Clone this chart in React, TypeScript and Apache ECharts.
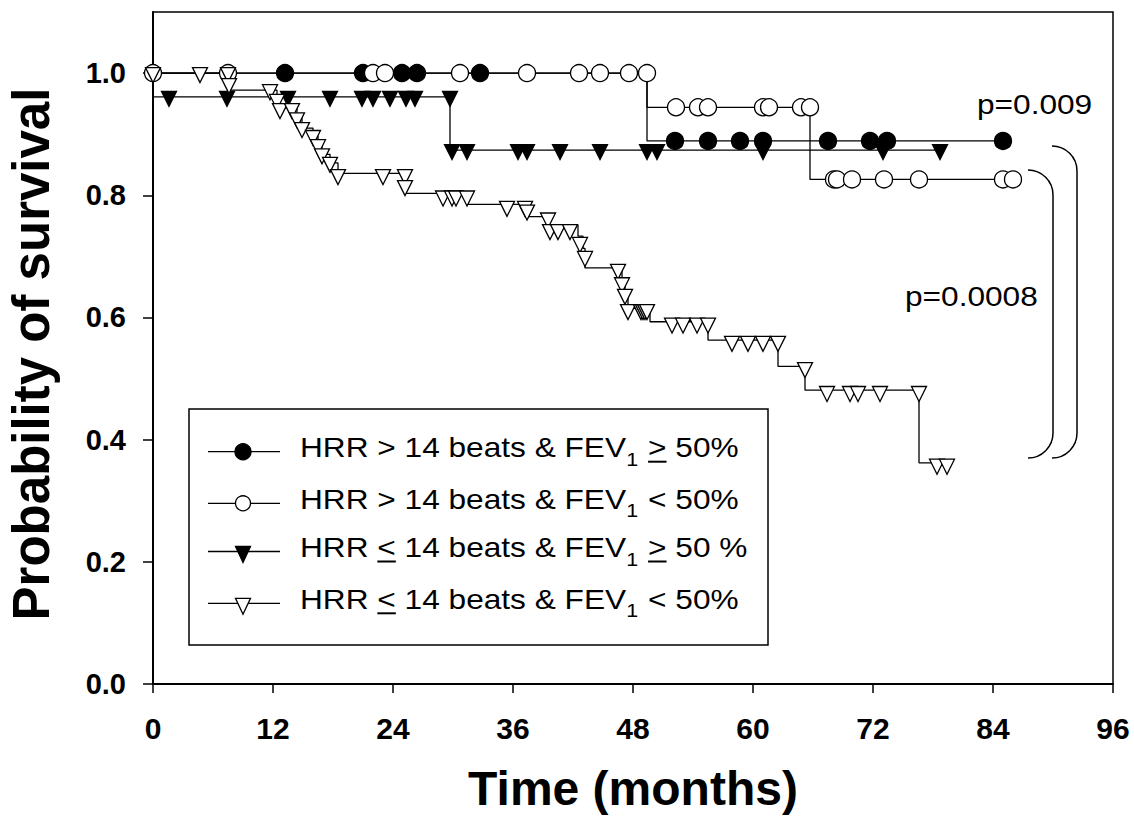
import React, { useEffect, useRef } from "react";
import * as echarts from "echarts";

type Pt = [number, number];

// ---------- axis settings ----------
const X_MIN = 0;
const X_MAX = 96;
const X_STEP = 12;
const Y_MIN = 0;
const Y_MAX = 1.1;
const yTickValues = [0, 0.2, 0.4, 0.6, 0.8, 1.0];
const xTitle = "Time (months)";
const yTitle = "Probability of survival";

// ---------- group A: HRR > 14 beats & FEV1 >= 50% (filled circles) ----------
const stepsA: Pt[] = [[0, 1.0], [49.4, 0.889], [85.0, 0.889]];
const censA: Pt[] = [
  [13.2, 1.0], [21.0, 1.0], [24.9, 1.0], [26.4, 1.0], [32.7, 1.0],
  [52.2, 0.889], [55.5, 0.889], [58.7, 0.889], [61.0, 0.889], [67.5, 0.889],
  [71.7, 0.889], [73.4, 0.889], [85.0, 0.889],
];

// ---------- group B: HRR > 14 beats & FEV1 < 50% (open circles) ----------
const stepsB: Pt[] = [[0, 1.0], [49.4, 0.944], [65.7, 0.826], [86.0, 0.826]];
const censB: Pt[] = [
  [0, 1.0], [7.5, 1.0], [22.0, 1.0], [23.2, 1.0], [30.7, 1.0], [37.4, 1.0],
  [42.6, 1.0], [44.7, 1.0], [47.6, 1.0], [49.4, 1.0],
  [52.3, 0.944], [54.5, 0.944], [55.5, 0.944], [61.0, 0.944], [61.6, 0.944],
  [64.8, 0.944], [65.7, 0.944],
  [68.1, 0.826], [68.4, 0.826], [69.9, 0.826], [73.1, 0.826], [76.6, 0.826],
  [85.0, 0.826], [86.0, 0.826],
];

// ---------- group C: HRR <= 14 beats & FEV1 >= 50 % (filled triangles) ----------
const stepsC: Pt[] = [[0, 0.961], [29.7, 0.874], [78.7, 0.874]];
const censC: Pt[] = [
  [1.6, 0.961], [7.4, 0.961], [13.5, 0.961], [17.7, 0.961], [20.9, 0.961],
  [22.0, 0.961], [23.7, 0.961], [25.3, 0.961], [26.2, 0.961], [29.7, 0.961],
  [29.9, 0.874], [31.4, 0.874], [36.5, 0.874], [37.4, 0.874], [40.7, 0.874],
  [44.7, 0.874], [49.4, 0.874], [50.4, 0.874], [61.0, 0.874], [73.0, 0.874],
  [78.7, 0.874],
];

// ---------- group D: HRR <= 14 beats & FEV1 < 50% (open triangles) ----------
const stepsD: Pt[] = [
  [0, 1.0], [7.5, 0.972], [12.4, 0.956], [12.7, 0.943], [14.4, 0.926],
  [14.9, 0.91], [16.0, 0.897], [16.5, 0.882], [16.9, 0.867], [17.7, 0.853],
  [18.5, 0.836], [25.2, 0.803], [31.5, 0.785], [37.4, 0.765], [39.5, 0.751],
  [42.5, 0.733], [43.0, 0.713], [43.2, 0.681], [46.9, 0.658], [47.2, 0.64],
  [47.5, 0.615], [49.7, 0.593], [55.5, 0.563], [62.5, 0.52], [65.2, 0.481],
  [76.6, 0.362], [79.4, 0.362],
];
const censD: Pt[] = [
  [0, 1.0], [4.7, 1.0], [7.5, 1.0], [7.6, 0.982], [11.7, 0.972], [12.4, 0.956],
  [12.7, 0.941], [13.9, 0.941], [14.4, 0.926], [14.9, 0.91], [16.0, 0.897],
  [16.5, 0.882], [16.9, 0.867], [17.7, 0.853], [18.5, 0.833], [23.0, 0.833],
  [25.2, 0.833], [25.2, 0.815], [29.0, 0.798], [29.9, 0.798], [30.3, 0.798],
  [31.4, 0.798], [35.4, 0.781], [37.2, 0.781], [37.4, 0.775], [39.5, 0.762],
  [39.7, 0.743], [40.5, 0.743], [41.7, 0.743], [42.7, 0.722], [43.2, 0.699],
  [46.5, 0.678], [46.9, 0.656], [47.2, 0.637], [47.5, 0.612], [48.8, 0.612],
  [49.0, 0.612], [49.2, 0.612], [49.4, 0.612],
  [51.9, 0.59], [53.0, 0.59], [54.4, 0.59], [55.5, 0.59],
  [57.9, 0.56], [59.5, 0.56], [61.0, 0.56], [62.5, 0.56], [65.2, 0.517],
  [67.4, 0.478], [69.7, 0.478], [70.5, 0.478], [72.7, 0.478], [76.6, 0.478],
  [78.4, 0.359], [79.4, 0.359],
];

// ---------- legend text (parts: sub = subscript, ul = underlined) ----------
type Part = { t: string; sub?: boolean; ul?: boolean };
const legendRows: Part[][] = [
  [{ t: "HRR > 14 beats & FEV" }, { t: "1", sub: true }, { t: " " }, { t: ">", ul: true }, { t: " 50%" }],
  [{ t: "HRR > 14 beats & FEV" }, { t: "1", sub: true }, { t: " < 50%" }],
  [{ t: "HRR " }, { t: "<", ul: true }, { t: " 14 beats & FEV" }, { t: "1", sub: true }, { t: " " }, { t: ">", ul: true }, { t: " 50 %" }],
  [{ t: "HRR " }, { t: "<", ul: true }, { t: " 14 beats & FEV" }, { t: "1", sub: true }, { t: " < 50%" }],
];
const legendMarkers = ["filledCircle", "openCircle", "filledTriangle", "openTriangle"];
const pValueTexts = ["p=0.009", "p=0.0008"];

const FONT = '"Liberation Sans", Arial, Helvetica, sans-serif';
const BLACK = "#000";

export default function App() {
  const ref = useRef<HTMLDivElement>(null);

  useEffect(() => {
    document.body.style.margin = "0";
    const el = ref.current!;
    const chart = echarts.init(el, null, { renderer: "svg" });

    const cv = document.createElement("canvas").getContext("2d")!;
    const measure = (s: string, size: number) => {
      cv.font = `${size}px "Liberation Sans", Arial, sans-serif`;
      return cv.measureText(s).width;
    };

    const lineSeries = (data: Pt[]) => ({
      type: "line",
      data,
      step: "end",
      symbol: "none",
      showSymbol: false,
      silent: true,
      lineStyle: { color: BLACK, width: 1.3 },
      z: 2,
    });
    const circleSeries = (data: Pt[], filled: boolean) => ({
      type: "scatter",
      data,
      symbol: "circle",
      symbolSize: 17,
      silent: true,
      itemStyle: { color: filled ? BLACK : "#fff", borderColor: BLACK, borderWidth: 1.3, opacity: 1 },
      z: 3,
    });
    const triSeries = (data: Pt[], filled: boolean) => ({
      type: "scatter",
      data,
      symbol: "triangle",
      symbolRotate: 180,
      symbolSize: [15, 15],
      symbolOffset: [0, 2],
      silent: true,
      itemStyle: { color: filled ? BLACK : "#fff", borderColor: BLACK, borderWidth: 1.3, opacity: 1 },
      z: 3,
    });

    // ----- legend graphic -----
    const legendLineY = [451.7, 503.3, 551.5, 603.3];
    const legendEls: any[] = [
      {
        type: "rect",
        shape: { x: 189, y: 409, width: 579, height: 236 },
        style: { fill: "#fff", stroke: BLACK, lineWidth: 1.5 },
        z: 10,
      },
    ];
    legendRows.forEach((row, i) => {
      const ly = legendLineY[i];
      legendEls.push({
        type: "line",
        shape: { x1: 208, y1: ly, x2: 280, y2: ly },
        style: { stroke: BLACK, lineWidth: 1.3 },
        z: 11,
      });
      const m = legendMarkers[i];
      if (m === "filledCircle" || m === "openCircle") {
        legendEls.push({
          type: "circle",
          shape: { cx: 243, cy: ly, r: m === "filledCircle" ? 8 : 7.5 },
          style: { fill: m === "filledCircle" ? BLACK : "#fff", stroke: BLACK, lineWidth: 1.3 },
          z: 12,
        });
      } else {
        legendEls.push({
          type: "polygon",
          shape: { points: [[235.5, ly - 5], [250.5, ly - 5], [243, ly + 11]] },
          style: { fill: m === "filledTriangle" ? BLACK : "#fff", stroke: BLACK, lineWidth: 1.3 },
          z: 12,
        });
      }
      const kids: any[] = [];
      let cx = 0;
      row.forEach((p) => {
        const size = p.sub ? 19 : 28;
        const w = measure(p.t, size);
        kids.push({
          type: "text",
          x: cx,
          y: p.sub ? 12 : 0,
          style: { text: p.t, fontSize: size, fontFamily: FONT, fill: BLACK, align: "left", verticalAlign: "middle" },
          z: 12,
        });
        if (p.ul) {
          kids.push({
            type: "line",
            shape: { x1: cx, y1: 14.5, x2: cx + w, y2: 14.5 },
            style: { stroke: BLACK, lineWidth: 2 },
            z: 12,
          });
        }
        cx += w + (p.sub ? 1 : 0);
      });
      legendEls.push({ type: "group", x: 300, y: ly - 4.5, scaleX: 1.13, children: kids, z: 12 });
    });

    // ----- p-values and brackets -----
    const annEls: any[] = [
      {
        type: "text", x: 977, y: 104, scaleX: 1.13,
        style: { text: pValueTexts[0], fontSize: 28, fontFamily: FONT, fill: BLACK, align: "left", verticalAlign: "middle" },
      },
      {
        type: "text", x: 905, y: 296.5, scaleX: 1.13,
        style: { text: pValueTexts[1], fontSize: 28, fontFamily: FONT, fill: BLACK, align: "left", verticalAlign: "middle" },
      },
    ];
    const bracket = (xl: number, top: number, bottom: number, r: number) => {
      const xv = xl + r;
      const st = { stroke: BLACK, fill: "none", lineWidth: 1.5 };
      return [
        { type: "arc", shape: { cx: xl, cy: top + r, r, startAngle: -Math.PI / 2, endAngle: 0, clockwise: true }, style: st },
        { type: "line", shape: { x1: xv, y1: top + r, x2: xv, y2: bottom - r }, style: st },
        { type: "arc", shape: { cx: xl, cy: bottom - r, r, startAngle: 0, endAngle: Math.PI / 2, clockwise: true }, style: st },
      ];
    };
    annEls.push(...bracket(1052, 146, 458, 25));
    annEls.push(...bracket(1028, 170, 458, 25));

    const option: any = {
      animation: false,
      backgroundColor: "#fff",
      grid: {
        left: 153,
        right: 21,
        top: 12,
        bottom: 141,
        show: true,
        borderColor: BLACK,
        borderWidth: 1.5,
        containLabel: false,
        outerBoundsMode: "none",
      },
      xAxis: {
        type: "value",
        min: X_MIN,
        max: X_MAX,
        interval: X_STEP,
        name: xTitle,
        nameLocation: "middle",
        nameGap: 80,
        nameTextStyle: { fontSize: 48, fontWeight: "bold", fontFamily: FONT, color: BLACK },
        axisLine: { show: true, onZero: false, lineStyle: { color: BLACK, width: 2 } },
        axisTick: { show: true, inside: false, length: 9, lineStyle: { color: BLACK, width: 1.5 } },
        axisLabel: { fontSize: 30, fontWeight: "bold", fontFamily: FONT, color: BLACK, margin: 29 },
        splitLine: { show: false },
      },
      yAxis: {
        type: "value",
        min: Y_MIN,
        max: Y_MAX,
        name: yTitle,
        nameLocation: "middle",
        nameGap: 96,
        nameRotate: 90,
        nameTextStyle: { fontSize: 51, fontWeight: "bold", fontFamily: FONT, color: BLACK, padding: [0, 12, 0, 0] },
        axisLine: { show: true, onZero: false, lineStyle: { color: BLACK, width: 2 } },
        axisTick: { show: true, inside: false, length: 10, customValues: yTickValues, lineStyle: { color: BLACK, width: 1.5 } },
        axisLabel: {
          customValues: yTickValues,
          formatter: (v: number) => v.toFixed(1),
          fontSize: 29,
          fontWeight: "bold",
          fontFamily: FONT,
          color: BLACK,
          margin: 27,
        },
        splitLine: { show: false },
      },
      series: [
        lineSeries(stepsA),
        lineSeries(stepsB),
        lineSeries(stepsC),
        lineSeries(stepsD),
        circleSeries(censA, true),
        circleSeries(censB, false),
        triSeries(censC, true),
        triSeries(censD, false),
      ],
      graphic: { elements: [...annEls, ...legendEls] },
    };

    chart.setOption(option);
    return () => chart.dispose();
  }, []);

  return <div ref={ref} style={{ width: 1134, height: 825 }} />;
}
